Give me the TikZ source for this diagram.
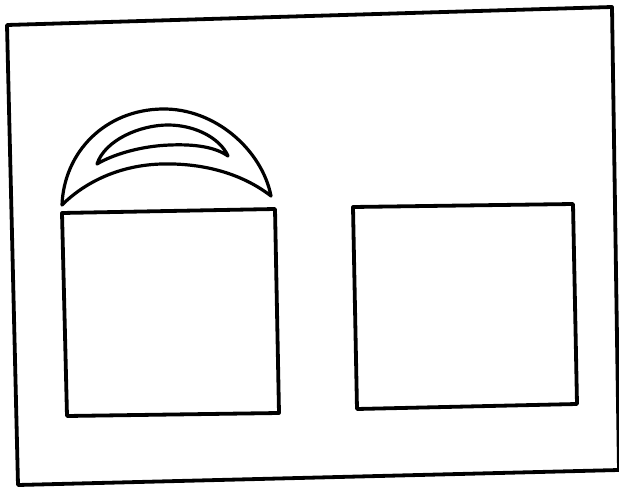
\documentclass[tikz,border=0pt]{standalone}
\begin{document}
\begin{tikzpicture}[x=1pt,y=-1pt,
  heavy/.style={line width=3.8pt, line join=round, line cap=round, draw=black},
  arcline/.style={line width=3.2pt, line join=round, line cap=round, draw=black}]
\useasboundingbox (0,0) rectangle (619,487);
\begin{scope}
\clip (0,0) rectangle (619,487);
% outer frame
\draw[heavy] (7,25) -- (612,7) -- (619,470) -- (18,485) -- cycle;
% left square
\draw[heavy] (62,213) -- (275,209) -- (279,413) -- (67,416) -- cycle;
% right square
\draw[heavy] (353,207) -- (573,204) -- (577,404) -- (357,409) -- cycle;
% big crescent
\draw[arcline] (62,205) .. controls (64,152) and (105,110) .. (162,109)
  .. controls (215,108) and (262,150) .. (271,196)
  .. controls (240,172) and (200,163) .. (162,164)
  .. controls (120,165) and (85,182) .. (62,205) -- cycle;
% small inner crescent
\draw[arcline] (97,164) .. controls (105,140) and (140,125) .. (168,125)
  .. controls (195,125) and (220,138) .. (228,156)
  .. controls (215,147) and (195,144) .. (170,145)
  .. controls (140,146) and (112,155) .. (97,164) -- cycle;
\end{scope}
\end{tikzpicture}
\end{document}
